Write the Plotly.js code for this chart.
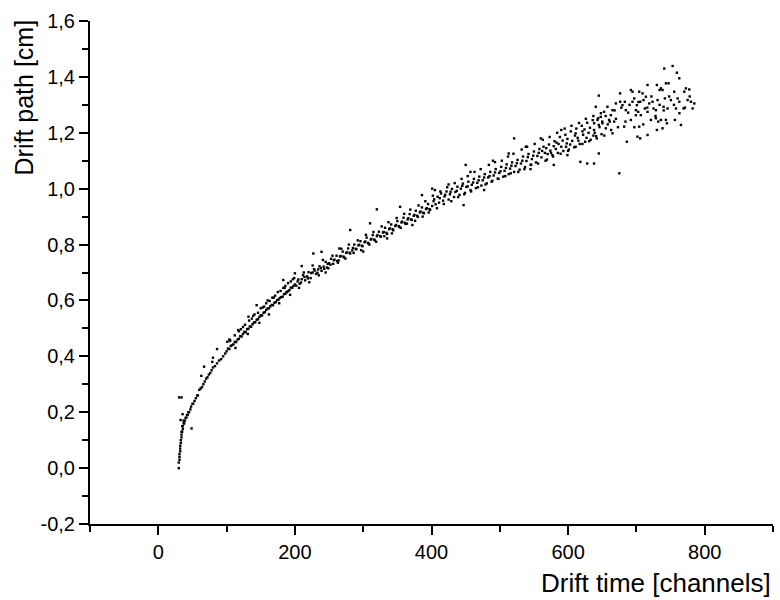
<!DOCTYPE html>
<html>
<head>
<meta charset="utf-8">
<script src="https://cdn.plot.ly/plotly-3.0.1.min.js"></script>
<style>html,body{margin:0;padding:0;background:#fff;}#chart{width:780px;height:600px;}</style>
</head>
<body>
<div id="chart"></div>
<script>
// Drift time [channels] / Drift path [cm]
const timeStart = [30,30,31,31,31,32,32,32,33,33,34,34,34,35,35,36,36,37,37,38,39,40,41,42,43,44,45,47,48,50,51,53,55,57,58,60,62,64,66,68,70,72,74,76,78,80,83,86,89,92,95,98];
const pathStart = [0.00,0.02,0.03,0.05,0.04,0.07,0.08,0.06,0.10,0.09,0.12,0.11,0.13,0.13,0.15,0.14,0.15,0.16,0.17,0.16,0.17,0.18,0.18,0.19,0.19,0.20,0.20,0.21,0.22,0.23,0.23,0.24,0.25,0.26,0.26,0.28,0.285,0.29,0.30,0.31,0.32,0.325,0.335,0.34,0.35,0.36,0.365,0.375,0.385,0.39,0.40,0.41];
const timeStartOut = [30.5,34,35.5,32.6,48.7,63,67,79,80,86,101,104];
const pathStartOut = [0.253,0.253,0.193,0.172,0.142,0.33,0.363,0.38,0.395,0.426,0.452,0.46];

const timeRise = [100,102,104,106,108,110,112,114,116,118,120,122,124,126,128,130,132,134,136,138,140,142,144,146,148,150,152,154,156,158,160,162,164,166,168,170,172,174,176,178,180,182,184,186,188,190,192,194,196,198,200];
const pathRise = [0.418,0.428,0.426,0.437,0.44,0.443,0.452,0.451,0.46,0.463,0.472,0.471,0.48,0.488,0.486,0.497,0.499,0.507,0.506,0.515,0.521,0.522,0.531,0.533,0.541,0.547,0.546,0.556,0.558,0.566,0.571,0.572,0.579,0.584,0.583,0.592,0.594,0.601,0.603,0.609,0.612,0.613,0.622,0.624,0.63,0.633,0.637,0.646,0.645,0.652,0.657];
const timeRiseUpper = [105,112,118,121,127,133,137,141,146,150,155,158,163,167,171,175,179,183,186,190,194,197];
const pathRiseUpper = [0.458,0.475,0.49,0.497,0.513,0.528,0.535,0.55,0.556,0.572,0.578,0.59,0.598,0.61,0.617,0.63,0.634,0.645,0.652,0.662,0.668,0.676];
const timeRiseOut = [117,132,144,160,183,188,200];
const pathRiseOut = [0.494,0.542,0.583,0.60,0.673,0.63,0.697];

const timeMid = [202,205,207,210,212,215,218,220,223,226,228,231,234,236,239,242,245,247,250,253,256,258,261,264,267,270,272,275,278,281,284,287,290,293,296,299,302,305,308,311,314,317,320,323,326,329,332,335,338,341,344,347,350,353,356,359,362,365,368,371,374,377,380,383,386,389,392,395,398];
const pathMid = [0.653,0.675,0.660,0.676,0.690,0.672,0.686,0.701,0.680,0.700,0.712,0.695,0.711,0.722,0.706,0.721,0.738,0.718,0.733,0.749,0.731,0.746,0.760,0.743,0.759,0.775,0.754,0.770,0.786,0.768,0.779,0.800,0.783,0.797,0.812,0.794,0.808,0.825,0.803,0.818,0.834,0.815,0.830,0.846,0.828,0.843,0.860,0.838,0.855,0.872,0.851,0.866,0.884,0.863,0.879,0.896,0.874,0.890,0.909,0.888,0.903,0.921,0.899,0.915,0.933,0.912,0.927,0.945,0.924];
const timeMid2 = [204,209,214,219,224,229,233,238,243,248,252,257,262,266,271,276,280,285,289,294,298,303,307,312,316,321,325,330,334,339,343,348,352,357,361,366,370,375,379,384,388,393,397];
const pathMid2 = [0.668,0.664,0.684,0.679,0.698,0.707,0.699,0.716,0.713,0.731,0.728,0.744,0.741,0.757,0.757,0.772,0.771,0.788,0.785,0.799,0.796,0.811,0.806,0.820,0.818,0.834,0.830,0.845,0.842,0.858,0.855,0.870,0.866,0.882,0.878,0.894,0.890,0.906,0.903,0.918,0.914,0.930,0.927];
const timeMidOut = [210,227,239,265,281,310,320,354,386,401,245,300,335,372];
const pathMidOut = [0.723,0.768,0.774,0.786,0.852,0.876,0.926,0.935,0.977,1.0,0.70,0.775,0.822,0.87];

const timeUpper = [401,404,406,409,411,414,417,419,422,425,427,430,433,435,438,441,443,446,449,451,454,457,459,462,465,467,470,473,475,478,481,483,486,489,491,494,497,499,502,505,507,510,513,515,518,521,523,526,529,531,534,537,539,542,545,547,550,553,555,558];
const pathUpper = [0.938,0.962,0.944,0.971,0.950,0.983,0.957,0.972,0.990,0.961,0.980,0.999,0.970,0.988,1.007,0.978,1.000,1.018,0.985,1.006,1.025,0.995,1.014,1.035,1.002,1.021,1.043,1.011,1.030,1.052,1.019,1.040,1.060,1.028,1.047,1.070,1.036,1.056,1.078,1.043,1.064,1.087,1.052,1.072,1.094,1.060,1.081,1.103,1.068,1.090,1.115,1.077,1.099,1.124,1.086,1.106,1.133,1.094,1.117,1.142];
const timeUpper2 = [403,412,420,428,437,445,453,461,469,477,485,493,501,509,517,525,533,541,549,557];
const pathUpper2 = [0.955,0.966,0.978,0.989,0.992,1.010,1.008,1.022,1.030,1.040,1.045,1.058,1.062,1.074,1.082,1.091,1.100,1.113,1.118,1.128];
const timeUpperOut = [447,450,457,477,513,521,538,405,425,490,545];
const pathUpperOut = [0.941,1.085,1.06,0.995,1.126,1.18,1.15,0.995,1.015,1.10,1.07];

const timeLate = [561,564,566,569,572,574,577,580,582,585,588,590,593,596,598,601,604,606,609,612,614,617,620,622,625,628,630,633,636,638,641,644,646,649];
const pathLate = [1.112,1.150,1.128,1.104,1.158,1.136,1.120,1.170,1.142,1.128,1.185,1.150,1.135,1.193,1.162,1.140,1.205,1.171,1.148,1.215,1.182,1.160,1.225,1.193,1.168,1.236,1.200,1.175,1.245,1.210,1.188,1.252,1.220,1.195];
const timeLate2 = [562,568,575,579,586,592,599,603,610,615,621,627,632,639,645,570,583,597,611,624,637,650];
const pathLate2 = [1.135,1.145,1.128,1.152,1.160,1.172,1.178,1.158,1.190,1.172,1.205,1.182,1.218,1.200,1.228,1.124,1.165,1.150,1.198,1.212,1.190,1.240];
const timeLateOut = [579,599,618,628,638,645,645,675,560,590];
const pathLateOut = [1.085,1.12,1.096,1.09,1.09,1.126,1.333,1.055,1.18,1.21];

const timeSpread = [105,113,124,131,139,148,153,162,169,177,185,193,199,206,213,221,226,235,241,249,255,263,268,274,279,286,292,297,304,309,315,319,327,331,337,342,349,355,360,364,369,376,381,387,391,396,402,408,413,418,423,429,434,439,444,448,453,458,463,468,472,479,484,488,493,498,503,508,512,516,520,527,532,536,540,546,551,556,563,567,573,578,584,589,595,600,605,611,616,621,626,631,637,642,648,653,658,663,670];
const pathSpread = [0.455,0.43,0.505,0.48,0.545,0.52,0.575,0.55,0.61,0.59,0.645,0.62,0.68,0.645,0.70,0.665,0.725,0.69,0.745,0.715,0.76,0.735,0.785,0.75,0.80,0.77,0.815,0.78,0.835,0.80,0.845,0.81,0.865,0.83,0.88,0.84,0.895,0.86,0.91,0.875,0.925,0.885,0.94,0.90,0.955,0.915,0.975,0.93,0.99,0.945,1.005,0.955,1.02,0.97,1.035,0.98,1.045,0.99,1.06,1.005,1.07,1.015,1.085,1.025,1.095,1.035,1.10,1.045,1.115,1.055,1.125,1.06,1.14,1.07,1.15,1.085,1.16,1.09,1.175,1.10,1.185,1.115,1.20,1.125,1.215,1.135,1.225,1.15,1.235,1.16,1.25,1.17,1.26,1.18,1.27,1.19,1.23,1.21,1.25];

const timeEnd = [647.8,652.7,657.6,660.1,662.5,665.0,667.4,669.9,650.3,655.2,665.0,643.0,638.1,640.5,
  676.2,676.2,679.6,683.1,684.5,688.0,691.9,694.3,694.3,696.8,699.2,700.7,702.6,704.1,705.6,706.5,709.0,710.4,712.4,713.9,716.3,716.3,718.8,721.2,723.6,725.1,728.5,730.0,731.0,732.0,733.9,735.9,738.3,739.8,740.8,741.7,743.2,743.2,745.7,747.1,750.5,753.0,755.4,756.4,757.9,759.3,760.3,762.8,762.8,765.2,769.1,770.1,772.5,775.0,777.4,779.9,782.3,784.8,
  701.6,705.6,716.3,704.1,686.0,682.1,691.9,699.2,728.5,735.9,744.7,730.0,738.3];
const pathEnd = [1.257,1.275,1.293,1.246,1.263,1.281,1.240,1.305,1.234,1.216,1.198,1.246,1.234,1.293,
  1.341,1.311,1.299,1.311,1.281,1.272,1.353,1.347,1.311,1.323,1.281,1.299,1.275,1.347,1.311,1.263,1.341,1.317,1.287,1.329,1.371,1.275,1.305,1.246,1.311,1.287,1.281,1.371,1.317,1.240,1.353,1.359,1.353,1.293,1.430,1.323,1.377,1.246,1.287,1.377,1.317,1.439,1.347,1.246,1.287,1.415,1.323,1.395,1.311,1.228,1.287,1.347,1.359,1.317,1.355,1.311,1.287,1.305,
  1.186,1.180,1.192,1.222,1.168,1.222,1.246,1.263,1.252,1.246,1.234,1.210,1.216];
const timeEnd2 = [655,661,668,673,678,684,690,697,703,710,716,722,728,734,740,748,755,763,771,778];
const pathEnd2 = [1.26,1.24,1.28,1.22,1.29,1.24,1.30,1.22,1.31,1.23,1.29,1.33,1.26,1.30,1.28,1.33,1.30,1.27,1.29,1.33];

const xTickVals = [0,200,400,600,800];
const xTickText = ['0','200','400','600','800'];
const yTickVals = [-0.2,0,0.2,0.4,0.6,0.8,1.0,1.2,1.4,1.6];
const yTickText = ['-0,2','0,0','0,2','0,4','0,6','0,8','1,0','1,2','1,4','1,6'];

const driftTime = [].concat(timeStart,timeStartOut,timeRise,timeRiseUpper,timeRiseOut,timeMid,timeMid2,timeMidOut,timeUpper,timeUpper2,timeUpperOut,timeLate,timeLate2,timeLateOut,timeSpread,timeEnd,timeEnd2);
const driftPath = [].concat(pathStart,pathStartOut,pathRise,pathRiseUpper,pathRiseOut,pathMid,pathMid2,pathMidOut,pathUpper,pathUpper2,pathUpperOut,pathLate,pathLate2,pathLateOut,pathSpread,pathEnd,pathEnd2);

const FONT = 'Liberation Sans, Arial, Helvetica, sans-serif';

const trace = {
  x: driftTime, y: driftPath, type: 'scatter', mode: 'markers',
  marker: {symbol: 'square', size: 2.4, color: '#000', line: {width: 0}},
  hoverinfo: 'x+y', showlegend: false
};

const axisCommon = {
  showgrid: false, zeroline: false, showline: true, linecolor: '#000', linewidth: 2,
  ticks: 'outside', ticklen: 9, tickwidth: 2, tickcolor: '#000',
  tickfont: {family: FONT, size: 20, color: '#000'}, mirror: false
};

const layout = {
  width: 780, height: 600,
  margin: {l: 90, r: 7, t: 21, b: 76, pad: 0},
  paper_bgcolor: '#fff', plot_bgcolor: '#fff',
  font: {family: FONT, color: '#000'},
  xaxis: Object.assign({}, axisCommon, {
    range: [-100, 900], tickmode: 'array', tickvals: xTickVals, ticktext: xTickText,
    minor: {tickmode: 'linear', tick0: 0, dtick: 100, ticks: 'outside', ticklen: 6, tickwidth: 2, tickcolor: '#000', showgrid: false}
  }),
  yaxis: Object.assign({}, axisCommon, {
    range: [-0.2, 1.6], tickmode: 'array', tickvals: yTickVals, ticktext: yTickText,
    minor: {tickmode: 'linear', tick0: 0, dtick: 0.1, ticks: 'outside', ticklen: 6, tickwidth: 2, tickcolor: '#000', showgrid: false}
  }),
  annotations: [
    {text: 'Drift time [channels]', xref: 'paper', yref: 'paper', x: 1.0, y: -0.118,
     xanchor: 'right', yanchor: 'middle', showarrow: false, font: {family: FONT, size: 26, color: '#000'}},
    {text: 'Drift path [cm]', xref: 'paper', yref: 'paper', x: -0.0966, y: 0.848,
     xanchor: 'center', yanchor: 'middle', textangle: -90, showarrow: false, font: {family: FONT, size: 25, color: '#000'}}
  ]
};

Plotly.newPlot('chart', [trace], layout, {displayModeBar: false, staticPlot: true});
</script>
</body>
</html>
